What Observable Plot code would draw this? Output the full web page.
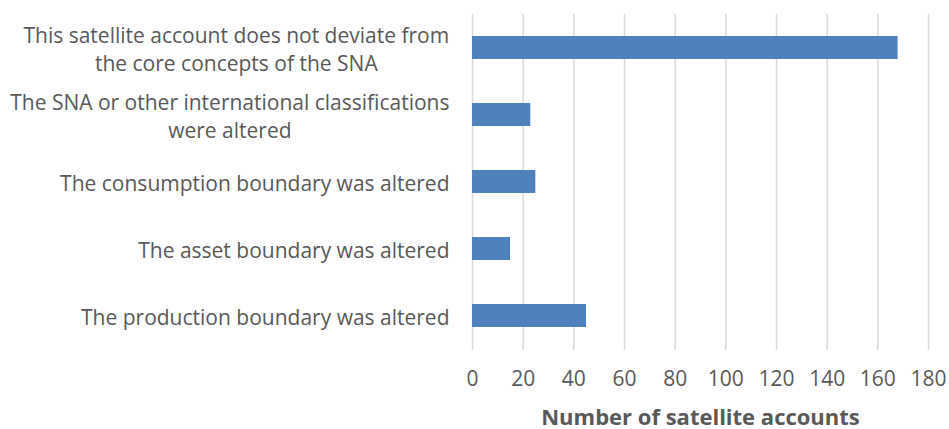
<!DOCTYPE html>
<html><head><meta charset="utf-8">
<script src="https://cdn.jsdelivr.net/npm/d3@7"></script>
<script src="https://cdn.jsdelivr.net/npm/@observablehq/plot@0.6"></script>
<style>
body{margin:0;background:#fff}
g[aria-label="x-axis label"] text{font-weight:700;font-size:22px}
</style></head><body><div id="chart"></div>
<script>
const categories = [
  "This satellite account does not deviate from the core concepts of the SNA",
  "The SNA or other international classifications were altered",
  "The consumption boundary was altered",
  "The asset boundary was altered",
  "The production boundary was altered"
];
const counts = [168, 23, 25, 15, 45];
const tickLabels = [
  "This satellite account does not deviate from\nthe core concepts of the SNA",
  "The SNA or other international classifications\nwere altered",
  "The consumption boundary was altered",
  "The asset boundary was altered",
  "The production boundary was altered"
];
const xTicks = [0, 20, 40, 60, 80, 100, 120, 140, 160, 180];
const xTitle = "Number of satellite accounts";

const data = categories.map((c, i) => ({category: c, count: counts[i]}));

const chart = Plot.plot({
  width: 949, height: 429,
  marginLeft: 472, marginRight: 21, marginTop: 14, marginBottom: 79,
  style: {fontFamily: "'Open Sans', sans-serif", fontSize: "21px", color: "#595959", background: "white"},
  x: {domain: [0, 180], ticks: xTicks},
  y: {domain: categories, paddingInner: 0.65, paddingOuter: 0.325, label: null},
  marks: [
    Plot.gridX(xTicks, {stroke: "#d9d9d9", strokeOpacity: 1, strokeWidth: 1.5}),
    Plot.barX(data, {x: "count", y: "category", fill: "#4f81bd"}),
    Plot.axisX({ticks: xTicks, tickSize: 0, tickPadding: 21, label: xTitle, labelAnchor: "center", labelArrow: "none", labelOffset: 74}),
    Plot.axisY({tickSize: 0, tickPadding: 23, lineHeight: 1.33, label: null, tickFormat: d => tickLabels[categories.indexOf(d)]})
  ]
});
document.getElementById("chart").appendChild(chart);

// center the lines of wrapped labels within their block, keeping the block right-aligned
chart.querySelectorAll('g[aria-label="y-axis tick label"] text').forEach(t => {
  const spans = t.querySelectorAll("tspan");
  if (spans.length > 1) {
    const w = t.getBBox().width;
    t.setAttribute("text-anchor", "middle");
    spans.forEach(s => s.setAttribute("x", -w / 2));
  }
});
</script></body></html>
